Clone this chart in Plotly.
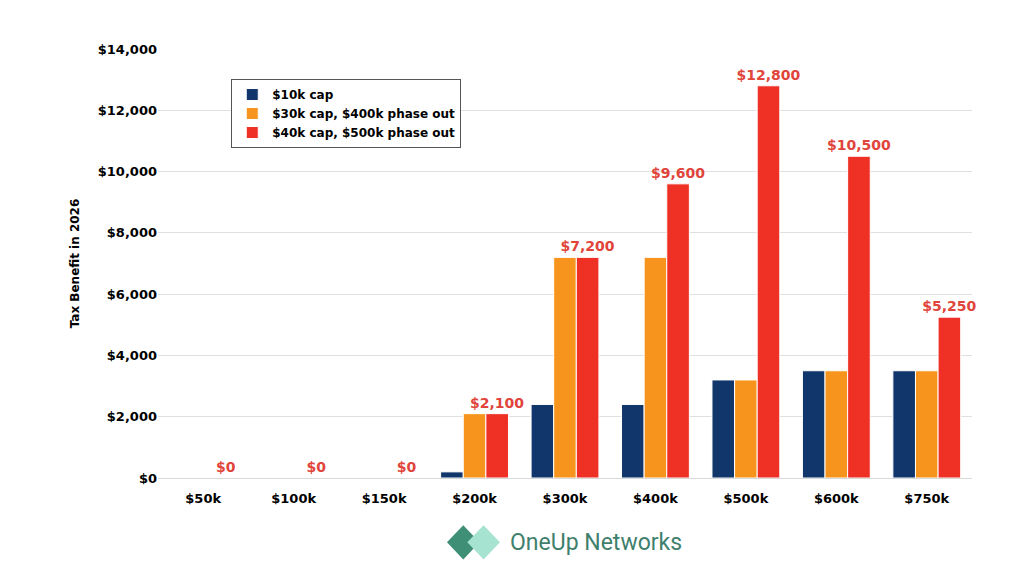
import plotly.graph_objects as go

incomes = ["$50k", "$100k", "$150k", "$200k", "$300k", "$400k", "$500k", "$600k", "$750k"]
cap_10k = [0, 0, 0, 200, 2400, 2400, 3200, 3500, 3500]
cap_30k = [0, 0, 0, 2100, 7200, 7200, 3200, 3500, 3500]
cap_40k = [0, 0, 0, 2100, 7200, 9600, 12800, 10500, 5250]
y_ticks = [0, 2000, 4000, 6000, 8000, 10000, 12000, 14000]

font = "DejaVu Sans"
fig = go.Figure()
fig.add_trace(go.Bar(x=incomes, y=cap_10k, name="<b>$10k cap</b>", marker_color="#10366b",
                     marker_line=dict(color="white", width=1)))
fig.add_trace(go.Bar(x=incomes, y=cap_30k, name="<b>$30k cap, $400k phase out</b>", marker_color="#f7941d",
                     marker_line=dict(color="white", width=1)))
fig.add_trace(go.Bar(x=incomes, y=cap_40k, name="<b>$40k cap, $500k phase out</b>", marker_color="#ee3124",
                     marker_line=dict(color="white", width=1),
                     text=[f"<b>${v:,}</b>" for v in cap_40k], textposition="outside",
                     textfont=dict(color="#e0443a", size=14, family=font), cliponaxis=False))

fig.update_layout(
    width=1024, height=576, barmode="group", bargap=0.25, bargroupgap=0,
    plot_bgcolor="white", paper_bgcolor="white",
    margin=dict(l=150, r=60, t=41, b=106),
    uniformtext=dict(minsize=14, mode="show"),
    font=dict(family=font, color="black", size=13),
    legend=dict(x=0.09, y=0.93, xanchor="left", yanchor="top", bgcolor="white",
                bordercolor="#555", borderwidth=1, font=dict(size=12, family=font)),
    yaxis=dict(range=[0, 14000], tickvals=y_ticks, ticktext=[f"<b>${v:,}</b>" for v in y_ticks],
               gridcolor="#e0e0e0",
               title=dict(text="<b>Tax Benefit in 2026</b>", font=dict(size=12)), zeroline=False,
               tickfont=dict(size=13)),
    xaxis=dict(showline=True, linecolor="#d9d9d9", tickfont=dict(size=13), ticklabelstandoff=8,
               tickvals=incomes, ticktext=[f"<b>{c}</b>" for c in incomes]),
)

# logo
fig.add_shape(type="path", xref="paper", yref="paper",
              path="M 0.355 -0.15 L 0.375 -0.11 L 0.395 -0.15 L 0.375 -0.19 Z",
              fillcolor="#3f8f76", line_width=0)
fig.add_shape(type="path", xref="paper", yref="paper",
              path="M 0.38 -0.15 L 0.40 -0.11 L 0.42 -0.15 L 0.40 -0.19 Z",
              fillcolor="#a6e3d0", line_width=0)
fig.add_annotation(text="OneUp Networks", xref="paper", yref="paper", x=0.43, y=-0.15,
                   xanchor="left", yanchor="middle", showarrow=False,
                   font=dict(size=23, color="#3f7f6c", family="Roboto"))

fig.write_html("out.html")
